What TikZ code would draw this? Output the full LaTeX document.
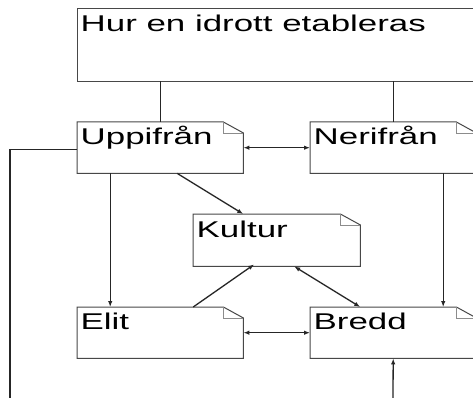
\documentclass[tikz,border=0pt]{standalone}
\usepackage{fontspec}
\newfontfamily\diafont[FakeStretch=1.53]{Liberation Sans}
\usetikzlibrary{arrows.meta}
\tikzset{
  notebox/.style={draw=none, inner sep=0pt, anchor=north west},
  lbl/.style={inner sep=0pt, anchor=base west, font=\diafont\fontsize{22.8}{24}\selectfont, text=black},
  outline/.style={draw=black!72, line width=1pt},
  foldline/.style={draw=black!45, line width=0.7pt},
  conn/.style={draw=black!85, line width=1.3pt},
  tip/.style={-{Latex[length=6pt,width=4.5pt]}},
  tips/.style={{Latex[length=6pt,width=4.5pt]}-{Latex[length=6pt,width=4.5pt]}}
}
\begin{document}
\begin{tikzpicture}[x=1pt,y=-1pt]
\useasboundingbox (0,0) rectangle (473,398);
\clip (0,0) rectangle (473,398);
\fill[white] (0,0) rectangle (473,398);

% boxes
\node[notebox, minimum width=420pt, minimum height=72pt] (top) at (77,9) {};
\draw[outline] (top.north west) rectangle (top.south east);
\node[lbl] (toplbl) at ([xshift=3.5pt,yshift=-23pt]top.north west) {Hur en idrott etableras};

\node[notebox, minimum width=166pt, minimum height=51pt] (up) at (77,122) {};
\node[notebox, minimum width=166pt, minimum height=51pt] (ner) at (310,122) {};
\node[notebox, minimum width=167pt, minimum height=52pt] (kul) at (193,214) {};
\node[notebox, minimum width=166pt, minimum height=51pt] (elit) at (77,307) {};
\node[notebox, minimum width=166pt, minimum height=51pt] (bredd) at (310,307) {};

\foreach \n in {up,ner,kul,elit,bredd}{
  \draw[outline] (\n.north west) -- ([xshift=-20pt]\n.north east)
     -- ([yshift=-11pt]\n.north east) -- (\n.south east) -- (\n.south west) -- cycle;
  \draw[foldline] ([xshift=-20pt]\n.north east) -- ([xshift=-20pt,yshift=-11pt]\n.north east)
     -- ([yshift=-11pt]\n.north east);
}

\node[lbl] (uplbl) at ([xshift=3.5pt,yshift=-23pt]up.north west) {Uppifrån};
\node[lbl] (nerlbl) at ([xshift=3.5pt,yshift=-23pt]ner.north west) {Nerifrån};
\node[lbl] (kullbl) at ([xshift=3.5pt,yshift=-23pt]kul.north west) {Kultur};
\node[lbl] (elitlbl) at ([xshift=3.5pt,yshift=-22pt]elit.north west) {Elit};
\node[lbl] (breddlbl) at ([xshift=3.5pt,yshift=-22pt]bredd.north west) {Bredd};

\coordinate (leftend) at (10,398);
\coordinate (botend) at (393,398);

% connectors
\draw[conn] (top.south -| up.north) -- (up.north);
\draw[conn] (top.south -| ner.north) -- (ner.north);
\draw[conn, tips] (up.east) -- (ner.west);
\draw[conn] ([yshift=-1.5pt]up.west) -| (leftend);
\draw[conn, tip] ([xshift=-50pt]up.south) -- ([xshift=-50pt]elit.north);
\draw[conn, tip] ([xshift=17pt]up.south) -- ([xshift=-33.5pt]kul.north);
\draw[conn, tip] ([xshift=50pt]ner.south) -- ([xshift=50pt]bredd.north);
\draw[conn, tip] ([xshift=33pt]elit.north) -- ([xshift=-22.5pt,yshift=2pt]kul.south);
\draw[conn, tips] ([xshift=17.5pt]kul.south) -- ([xshift=-33pt]bredd.north);
\draw[conn, tips] (elit.east) -- (bredd.west);
\draw[conn, tip] (botend) -- (bredd.south);
\end{tikzpicture}
\end{document}
